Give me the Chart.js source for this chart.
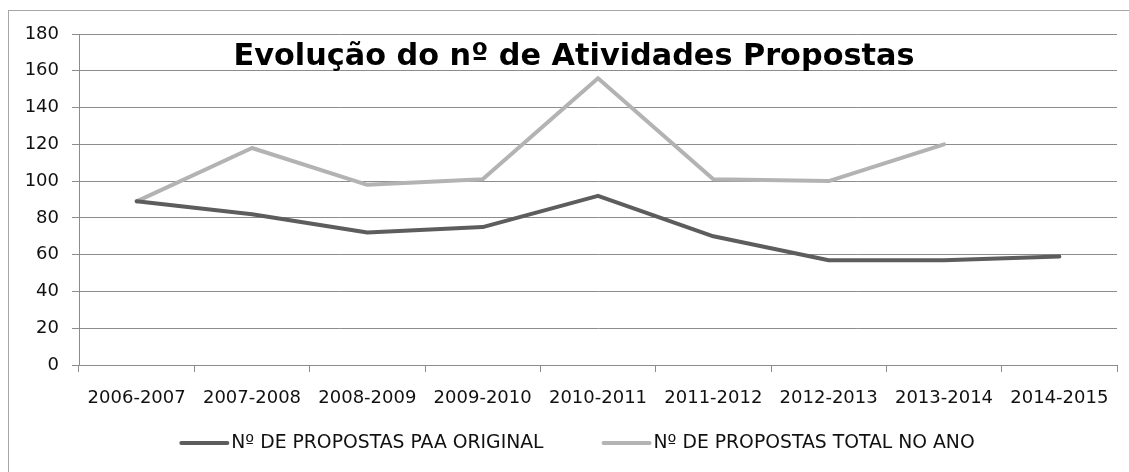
<!DOCTYPE html>
<html lang="pt">
<head>
<meta charset="utf-8">
<title>Evolução do nº de Atividades Propostas</title>
<script src="https://cdn.jsdelivr.net/npm/chart.js@4/dist/chart.umd.min.js"></script>
<style>
  html, body { margin: 0; padding: 0; background: #fff; overflow: hidden; }
  #wrap { position: relative; width: 1129px; height: 472px; }
  /* moldura da área do gráfico */
  #frame { position: absolute; left: 8px; top: 10px; width: 1300px; height: 600px;
           border-left: 1px solid #a6a6a6; border-top: 1px solid #a6a6a6; }
  #chart { position: absolute; left: 0; top: 0; }
</style>
</head>
<body>
<div id="wrap">
  <div id="frame"></div>
  <canvas id="chart" width="1129" height="472"></canvas>
</div>
<script>
// Dados
const categories = ['2006-2007', '2007-2008', '2008-2009', '2009-2010', '2010-2011',
                    '2011-2012', '2012-2013', '2013-2014', '2014-2015'];
const paaOriginal = [89, 82, 72, 75, 92, 70, 57, 57, 59];
const totalAno = [89, 118, 98, 101, 156, 101, 100, 120, null];
const yTicks = [0, 20, 40, 60, 80, 100, 120, 140, 160, 180];

const titleText = 'Evolução do nº de Atividades Propostas';
const font = 'DejaVu Sans';

const dark = '#5d5d5d';
const light = '#b3b3b3';
const gridColor = '#8c8c8c';
const textColor = '#111';

// Título sobreposto à área do gráfico (como no Excel)
const overlayTitle = {
    id: 'overlayTitle',
    afterDatasetsDraw(chart) {
        const ctx = chart.ctx;
        ctx.save();
        ctx.font = 'bold 30.3px "' + font + '"';
        ctx.fillStyle = '#000';
        ctx.textAlign = 'center';
        ctx.textBaseline = 'alphabetic';
        ctx.fillText(titleText, 574, 65);
        ctx.restore();
    }
};

// Legenda estilo Excel: traço de 50px colado ao texto
const excelLegend = {
    id: 'excelLegend',
    afterDraw(chart) {
        const ctx = chart.ctx;
        ctx.save();
        ctx.font = '18.8px "' + font + '"';
        const items = chart.data.datasets.map(ds => ({
            text: ds.label, color: ds.borderColor, w: ctx.measureText(ds.label).width
        }));
        const lineW = 50, gap = 2, itemGap = 58;
        const total = items.reduce((s, it) => s + lineW + gap + it.w, 0) + itemGap * (items.length - 1);
        let x = 577 - total / 2;
        const y = 443;
        items.forEach(it => {
            ctx.strokeStyle = it.color;
            ctx.lineWidth = 4;
            ctx.lineCap = 'round';
            ctx.beginPath();
            ctx.moveTo(x + 2, y);
            ctx.lineTo(x + lineW - 2, y);
            ctx.stroke();
            ctx.fillStyle = textColor;
            ctx.textAlign = 'left';
            ctx.textBaseline = 'middle';
            ctx.fillText(it.text, x + lineW + gap, y);
            x += lineW + gap + it.w + itemGap;
        });
        ctx.restore();
    }
};

new Chart(document.getElementById('chart'), {
    type: 'line',
    data: {
        labels: categories,
        datasets: [{
            label: 'Nº DE PROPOSTAS PAA ORIGINAL',
            data: paaOriginal,
            borderColor: dark,
            backgroundColor: dark,
            borderWidth: 4,
            pointRadius: 0,
            tension: 0,
            borderJoinStyle: 'round',
            borderCapStyle: 'round'
        }, {
            label: 'Nº DE PROPOSTAS TOTAL NO ANO',
            data: totalAno,
            borderColor: light,
            backgroundColor: light,
            borderWidth: 4,
            pointRadius: 0,
            tension: 0,
            borderJoinStyle: 'round',
            borderCapStyle: 'round'
        }]
    },
    options: {
        responsive: false,
        animation: false,
        layout: { padding: { left: 15, right: 12, top: 34, bottom: 5 } },
        plugins: {
            title: { display: false },
            tooltip: { enabled: false },
            legend: { display: false }
        },
        scales: {
            x: {
                offset: true,
                grid: { offset: true, drawOnChartArea: false, color: gridColor, tickLength: 7 },
                border: { color: gridColor },
                ticks: { color: textColor, padding: 16, maxRotation: 0, autoSkip: false,
                         font: { family: font, size: 18 } },
                afterFit: s => { s.height = 102; }
            },
            y: {
                min: 0,
                max: 180,
                afterBuildTicks: s => { s.ticks = yTicks.map(v => ({ value: v })); },
                grid: { color: gridColor, tickLength: 7 },
                border: { color: gridColor },
                ticks: { color: textColor, padding: 13, font: { family: font, size: 18 } },
                afterFit: s => { s.width = 64; }
            }
        }
    },
    plugins: [overlayTitle, excelLegend]
});
</script>
</body>
</html>
